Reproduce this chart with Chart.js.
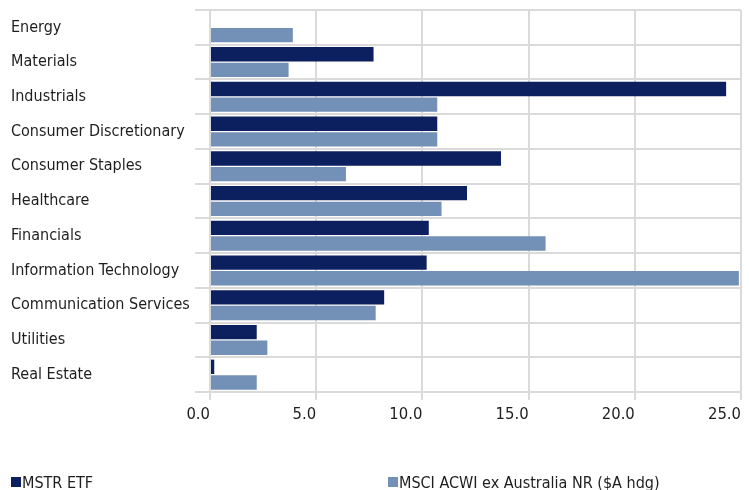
<!DOCTYPE html>
<html>
<head>
<meta charset="utf-8">
<script src="https://cdn.jsdelivr.net/npm/chart.js@4"></script>
<style>
    html, body { margin: 0; padding: 0; background: #fff; }
    #wrap { width: 749px; height: 490px; position: relative; }
</style>
</head>
<body>
<div id="wrap"><canvas id="sectorChart"></canvas></div>
<script>
const sectors = ['Energy', 'Materials', 'Industrials', 'Consumer Discretionary', 'Consumer Staples',
    'Healthcare', 'Financials', 'Information Technology', 'Communication Services', 'Utilities', 'Real Estate'];
const mstrEtf = [0, 7.7, 24.3, 10.7, 13.7, 12.1, 10.3, 10.2, 8.2, 2.2, 0.2];
const msciAcwi = [3.9, 3.7, 10.7, 10.7, 6.4, 10.9, 15.8, 24.9, 7.8, 2.7, 2.2];
const seriesNames = ['MSTR ETF', 'MSCI ACWI ex Australia NR ($A hdg)'];
const xTicks = [0, 5, 10, 15, 20, 25];

const FONT = '"Liberation Sans Narrow", "DejaVu Sans Condensed", Roboto, sans-serif';
const gridColor = '#dadada';
const textColor = '#1e1e1e';

// legend sits apart at two fixed spots, so draw it by hand
const bottomLegend = {
    id: 'bottomLegend',
    afterDraw(chart) {
        const ctx = chart.ctx;
        const spots = [11, 388];
        ctx.save();
        ctx.font = '16px ' + FONT;
        ctx.textBaseline = 'alphabetic';
        ctx.textAlign = 'left';
        chart.data.datasets.forEach((ds, i) => {
            const x = spots[i];
            ctx.fillStyle = ds.backgroundColor;
            ctx.fillRect(x, 477, 10, 10);
            ctx.fillStyle = textColor;
            ctx.fillText(ds.label, x + 11, 488);
        });
        ctx.restore();
    }
};

new Chart(document.getElementById('sectorChart'), {
    type: 'bar',
    data: {
        labels: sectors,
        datasets: [{
            label: seriesNames[0],
            data: mstrEtf,
            backgroundColor: '#0c1f5f',
            categoryPercentage: 0.9,
            barPercentage: 0.92
        }, {
            label: seriesNames[1],
            data: msciAcwi,
            backgroundColor: '#7390b7',
            categoryPercentage: 0.9,
            barPercentage: 0.92
        }]
    },
    options: {
        indexAxis: 'y',
        responsive: true,
        maintainAspectRatio: false,
        animation: false,
        layout: { padding: { left: 11, right: 8, top: 10, bottom: 57 } },
        plugins: {
            legend: { display: false },
            tooltip: { enabled: false }
        },
        scales: {
            x: {
                min: 0,
                max: 25,
                afterFit: (s) => { s.height = 41; },
                afterBuildTicks: (s) => { s.ticks = xTicks.map(v => ({ value: v })); },
                grid: { color: gridColor, lineWidth: 2, tickLength: 8 },
                border: { color: gridColor, width: 2 },
                ticks: {
                    align: 'end',
                    padding: 5,
                    color: textColor,
                    font: { family: FONT, size: 16.5 },
                    callback: (v) => Number(v).toFixed(1)
                }
            },
            y: {
                afterFit: (s) => { s.width = 199; },
                grid: { color: gridColor, lineWidth: 2, tickLength: 15, offset: true },
                border: { color: gridColor, width: 2 },
                ticks: {
                    crossAlign: 'far',
                    padding: 0,
                    color: textColor,
                    font: { family: FONT, size: 16 }
                }
            }
        }
    },
    plugins: [bottomLegend]
});
</script>
</body>
</html>
